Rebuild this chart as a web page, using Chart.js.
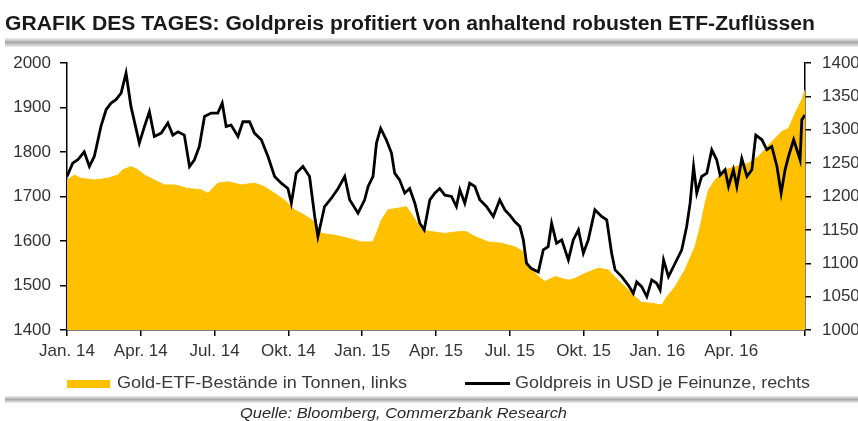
<!DOCTYPE html>
<html>
<head>
    <title>Goldpreis und Gold-ETF-Bestände</title>
    <script src="https://cdn.jsdelivr.net/npm/chart.js"></script>
    <style>
        body {
            margin: 0;
            background-color: #ffffff;
            font-family: "Liberation Sans", Arial, sans-serif;
        }
        .page {
            position: relative;
            width: 858px;
            height: 421px;
            overflow: hidden;
        }
        #goldChart {
            position: absolute;
            left: 0;
            top: 0;
        }
        .fit {
            position: absolute;
            white-space: nowrap;
            transform-origin: 0 0;
        }
        .title {
            left: 5px;
            top: 12px;
            font-size: 20px;
            font-weight: bold;
            color: #1a1a1a;
        }
        .rule {
            position: absolute;
            left: 5px;
            right: 0;
            background: linear-gradient(to bottom, #f0f0f0, #a8a8a8 50%, #f0f0f0);
        }
        .legend-text {
            font-size: 17px;
            color: #3a3a3a;
        }
        .source {
            top: 404px;
            left: 240px;
            font-size: 15px;
            font-style: italic;
            color: #2a2a2a;
        }
    </style>
</head>
<body>
    <div class="page">
        <canvas id="goldChart" width="858" height="421"></canvas>

        <div class="fit title" data-w="810">GRAFIK DES TAGES: Goldpreis profitiert von anhaltend robusten ETF-Zuflüssen</div>
        <div class="rule" style="top: 38px; height: 9px;"></div>

        <!-- legend -->
        <div style="position:absolute; left:67px; top:380px; width:43px; height:8px; background:#FFC000;"></div>
        <div class="fit legend-text" data-w="290" style="left:117px; top:373px;">Gold-ETF-Bestände in Tonnen, links</div>
        <div style="position:absolute; left:465px; top:382px; width:45px; height:3px; background:#000;"></div>
        <div class="fit legend-text" data-w="295" style="left:515px; top:373px;">Goldpreis in USD je Feinunze, rechts</div>

        <div class="rule" style="top: 396px; height: 7px;"></div>
        <div class="fit source" data-w="327">Quelle: Bloomberg, Commerzbank Research</div>
    </div>

    <script>
        // x position = months since Jan 2014
        const xTickLabels = ['Jan. 14', 'Apr. 14', 'Jul. 14', 'Okt. 14', 'Jan. 15', 'Apr. 15',
                             'Jul. 15', 'Okt. 15', 'Jan. 16', 'Apr. 16', ''];

        // Goldpreis in USD je Feinunze (right axis)
        const goldMonths = [0.0, 0.23, 0.44, 0.70, 0.91, 1.11, 1.38, 1.59, 1.79, 1.99, 2.20, 2.40, 2.60,
            2.94, 3.15, 3.35, 3.55, 3.83, 4.10, 4.30, 4.51, 4.77, 4.98, 5.18, 5.38, 5.59, 5.86, 6.13,
            6.31, 6.47, 6.67, 6.95, 7.15, 7.42, 7.62, 7.90, 8.17, 8.44, 8.71, 8.98, 9.12, 9.32, 9.59,
            9.86, 10.07, 10.20, 10.47, 10.74, 11.02, 11.29, 11.49, 11.83, 12.10, 12.24, 12.44, 12.58,
            12.75, 12.98, 13.19, 13.32, 13.52, 13.73, 13.93, 14.14, 14.34, 14.52, 14.75, 14.95, 15.15,
            15.36, 15.63, 15.83, 15.97, 16.17, 16.37, 16.58, 16.78, 17.05, 17.33, 17.59, 17.80, 18.00,
            18.21, 18.41, 18.55, 18.68, 18.88, 19.16, 19.36, 19.56, 19.70, 19.90, 20.11, 20.38, 20.58,
            20.79, 20.99, 21.19, 21.46, 21.73, 21.94, 22.14, 22.28, 22.55, 22.82, 23.02, 23.16, 23.36,
            23.57, 23.77, 23.97, 24.11, 24.25, 24.45, 24.72, 24.99, 25.19, 25.33, 25.47, 25.60, 25.80,
            26.01, 26.21, 26.41, 26.55, 26.75, 26.89, 27.09, 27.23, 27.43, 27.64, 27.84, 28.00, 28.25,
            28.45, 28.65, 28.86, 29.03, 29.19, 29.33, 29.54, 29.67, 29.80, 29.87, 30.0];
        const goldUsd = [1230, 1250, 1255, 1267, 1245, 1260, 1305, 1330, 1340, 1345, 1355, 1385, 1335,
            1280, 1305, 1327, 1290, 1295, 1310, 1292, 1297, 1292, 1245, 1255, 1275, 1320, 1325, 1325,
            1340, 1305, 1307, 1290, 1312, 1312, 1295, 1285, 1260, 1230, 1220, 1212, 1190, 1235, 1245,
            1230, 1170, 1140, 1185, 1197, 1212, 1230, 1195, 1175, 1195, 1215, 1230, 1280,
            1302, 1285, 1265, 1235, 1225, 1205, 1212, 1190, 1160, 1150, 1195, 1205, 1212,
            1202, 1200, 1185, 1210, 1190, 1220, 1215, 1195, 1185, 1170, 1195, 1180, 1172,
            1162, 1155, 1135, 1100, 1092, 1087, 1120, 1125, 1160, 1130, 1135, 1105, 1135,
            1150, 1115, 1135, 1180, 1170, 1165, 1115, 1090, 1080, 1067, 1055, 1072, 1065,
            1050, 1075, 1070, 1060, 1105, 1080, 1100, 1120, 1155, 1190, 1245, 1205, 1230,
            1235, 1270, 1255, 1232, 1240, 1215, 1240, 1215, 1257, 1230, 1240, 1292, 1285,
            1270, 1275, 1245, 1205, 1240, 1260, 1285, 1270, 1255, 1315, 1322];

        // Gold-ETF-Bestände in Tonnen (left axis)
        const etfMonths = [0.0, 0.30, 0.57, 1.11, 1.66, 2.06, 2.27, 2.60, 2.88, 3.15, 3.55, 3.96, 4.37,
            4.91, 5.45, 5.73, 6.13, 6.54, 7.08, 7.62, 8.03, 8.44, 8.84, 9.25, 9.66, 10.07, 10.34,
            10.88, 11.42, 11.97, 12.44, 12.58, 12.78, 13.05, 13.39, 13.80, 14.07, 14.41, 14.81, 15.36,
            15.90, 16.24, 16.58, 17.12, 17.66, 18.21, 18.55, 18.75, 19.16, 19.43, 19.84, 20.38, 20.65,
            21.05, 21.60, 22.01, 22.28, 22.69, 23.09, 23.36, 23.77, 24.18, 24.39, 24.72, 25.12, 25.53,
            25.74, 25.94, 26.08, 26.35, 26.75, 27.16, 27.71, 28.11, 28.65, 29.06, 29.33, 29.60, 29.87, 30.0];
        const etfTonnes = [1737, 1748, 1741, 1737, 1741, 1748, 1760, 1767, 1760, 1748, 1737, 1726, 1726,
            1718, 1715, 1707, 1730, 1733, 1726, 1730, 1722, 1707, 1692, 1670, 1658, 1643, 1617,
            1613, 1606, 1598, 1598, 1617, 1647, 1670, 1673, 1677, 1655, 1625, 1621, 1617,
            1621, 1621, 1610, 1598, 1595, 1587, 1576, 1546, 1520, 1509, 1520, 1512, 1516,
            1527, 1539, 1535, 1518, 1497, 1475, 1462, 1460, 1456, 1475, 1497, 1535, 1587,
            1632, 1685, 1715, 1737, 1760, 1767, 1775, 1790, 1823, 1846, 1853, 1887, 1917, 1939];

        const tickFont = { family: "'Liberation Sans', Arial, sans-serif", size: 17 };
        const tickColor = '#333333';

        function fitTexts() {
            document.querySelectorAll('.fit').forEach(el => {
                const target = parseFloat(el.dataset.w);
                const w = el.getBoundingClientRect().width;
                if (w > 0) el.style.transform = 'scaleX(' + (target / w) + ')';
            });
        }

        function createChart() {
            const ctx = document.getElementById('goldChart').getContext('2d');

            new Chart(ctx, {
                type: 'line',
                data: {
                    datasets: [
                        {
                            label: 'Goldpreis in USD je Feinunze, rechts',
                            data: goldMonths.map((m, i) => ({ x: m, y: goldUsd[i] })),
                            yAxisID: 'yR',
                            borderColor: '#000000',
                            borderWidth: 2.8,
                            pointRadius: 0,
                            tension: 0,
                            fill: false
                        },
                        {
                            label: 'Gold-ETF-Bestände in Tonnen, links',
                            data: etfMonths.map((m, i) => ({ x: m, y: etfTonnes[i] })),
                            yAxisID: 'yL',
                            borderColor: '#FFC000',
                            backgroundColor: '#FFC000',
                            borderWidth: 1,
                            pointRadius: 0,
                            tension: 0,
                            fill: 'start'
                        }
                    ]
                },
                options: {
                    responsive: false,
                    animation: false,
                    layout: {
                        padding: { top: 63, bottom: 61, left: 0, right: 0 }
                    },
                    plugins: {
                        legend: { display: false },
                        tooltip: { enabled: false },
                        title: { display: false }
                    },
                    scales: {
                        x: {
                            type: 'linear',
                            min: 0,
                            max: 30,
                            afterFit: (scale) => { scale.height = 30; },
                            ticks: {
                                stepSize: 3,
                                autoSkip: false,
                                maxRotation: 0,
                                padding: 5,
                                font: tickFont,
                                color: tickColor,
                                callback: (v) => xTickLabels[Math.round(v / 3)] ?? ''
                            },
                            grid: {
                                drawOnChartArea: false,
                                drawTicks: true,
                                tickLength: 6,
                                color: '#000000',
                                lineWidth: 1.5
                            },
                            border: { display: true, color: '#000000', width: 1.5 }
                        },
                        yL: {
                            position: 'left',
                            min: 1400,
                            max: 2000,
                            afterFit: (scale) => { scale.width = 67; },
                            ticks: {
                                stepSize: 100,
                                padding: 9,
                                font: tickFont,
                                color: tickColor,
                                callback: (v) => String(v)
                            },
                            grid: {
                                drawOnChartArea: false,
                                tickLength: 7,
                                color: '#000000',
                                lineWidth: 1.5
                            },
                            border: { display: true, color: '#000000', width: 1.5 }
                        },
                        yR: {
                            position: 'right',
                            min: 1000,
                            max: 1400,
                            afterFit: (scale) => { scale.width = 53; },
                            ticks: {
                                stepSize: 50,
                                padding: 11,
                                font: tickFont,
                                color: tickColor,
                                callback: (v) => String(v)
                            },
                            grid: {
                                drawOnChartArea: false,
                                tickLength: 6,
                                color: '#000000',
                                lineWidth: 1.5
                            },
                            border: { display: true, color: '#000000', width: 1.5 }
                        }
                    }
                }
            });
        }

        fitTexts();
        createChart();
    </script>
</body>
</html>
